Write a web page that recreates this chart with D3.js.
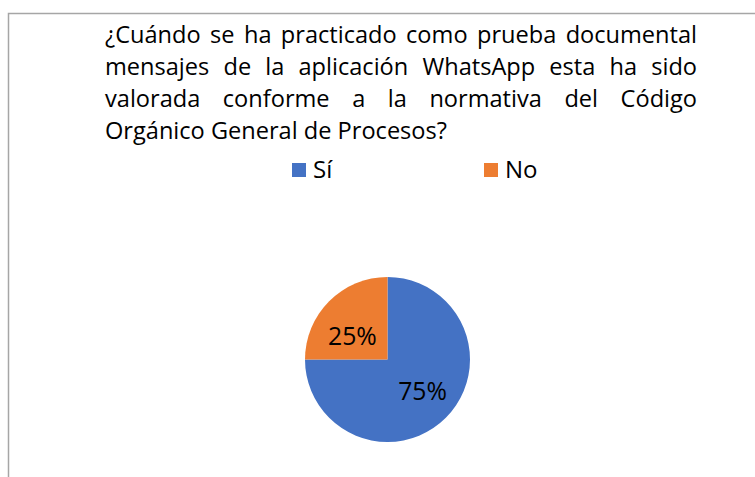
<!DOCTYPE html>
<html lang="es">
  <head>
    <meta charset="utf-8">
    <title>Pie</title>
    <style>
      body { margin: 0; background: #fff; }
      svg text { font-family: "Open Sans", sans-serif; fill: #000; }
    </style>
  </head>
  <body>
    <svg class="chart"></svg>
    <script src="https://d3js.org/d3.v7.min.js"></script>
    <script>
      const titleLines = [
        "¿Cuándo se ha practicado como prueba documental",
        "mensajes de la aplicación WhatsApp esta ha sido",
        "valorada conforme a la normativa del Código",
        "Orgánico General de Procesos?"
      ];
      const categories = ["Sí", "No"];
      const values = [75, 25];
      const labels = ["75%", "25%"];
      const colors = ["#4472C4", "#ED7D31"];

      const width = 755, height = 477;
      const svg = d3.select(".chart").attr("width", width).attr("height", height);

      // chart frame, runs off the right and bottom of the picture
      svg.append("rect")
        .attr("x", 8.5).attr("y", 13.5)
        .attr("width", 800).attr("height", 500)
        .attr("fill", "none").attr("stroke", "#a6a6a6").attr("stroke-width", 1.5);

      // title, justified like the original
      const tLeft = 105, tRight = 697, tTop = 43, tStep = 32;
      const title = svg.append("g").attr("font-size", 20);
      // size the font so the last (unjustified) line is as wide as in the source
      const probe = title.append("text").text(titleLines[3]);
      const tSize = 20 * 342 / probe.node().getComputedTextLength();
      probe.remove();
      title.attr("font-size", tSize);
      titleLines.forEach(function(line, i) {
        const y = tTop + i * tStep;
        const words = line.split(" ");
        if (i === titleLines.length - 1) {
          title.append("text").attr("x", tLeft).attr("y", y).text(line);
          return;
        }
        const nodes = words.map(w => title.append("text").attr("y", y).text(w));
        const widths = nodes.map(n => n.node().getComputedTextLength());
        const gap = (tRight - tLeft - d3.sum(widths)) / (words.length - 1);
        let x = tLeft;
        nodes.forEach(function(n, j) {
          n.attr("x", x);
          x += widths[j] + gap;
        });
      });

      // legend
      const legendX = d3.scalePoint().domain(categories).range([292, 484]);
      const legend = svg.append("g").attr("font-size", tSize * 1.02);
      legend.selectAll("rect").data(categories).enter().append("rect")
        .attr("x", d => legendX(d)).attr("y", 163)
        .attr("width", 14).attr("height", 14)
        .attr("fill", (d, i) => colors[i]);
      legend.selectAll("text").data(categories).enter().append("text")
        .attr("x", d => legendX(d) + 21).attr("y", 177.5)
        .text(d => d);

      // pie
      const cx = 387.5, cy = 359.5, r = 82.5;
      const pie = d3.pie().sort(null).value(d => d)(values);
      const arc = d3.arc().innerRadius(0).outerRadius(r);
      const labelArc = d3.arc().innerRadius(r * 0.55).outerRadius(r * 0.55);
      const g = svg.append("g").attr("transform", `translate(${cx},${cy})`);
      g.selectAll("path").data(pie).enter().append("path")
        .attr("d", arc)
        .attr("fill", (d, i) => colors[i]);
      g.selectAll("text").data(pie).enter().append("text")
        .attr("transform", d => {
          const c = labelArc.centroid(d);
          // the small slice's label sits a little lower and further out
          return d.index === 1 ? `translate(${c[0] - 3},${c[1] + 8})` : `translate(${c[0] + 3},${c[1] - 1})`;
        })
        .attr("text-anchor", "middle")
        .attr("dominant-baseline", "central")
        .attr("font-size", tSize * 1.05)
        .text((d, i) => labels[i]);
    </script>
  </body>
</html>
